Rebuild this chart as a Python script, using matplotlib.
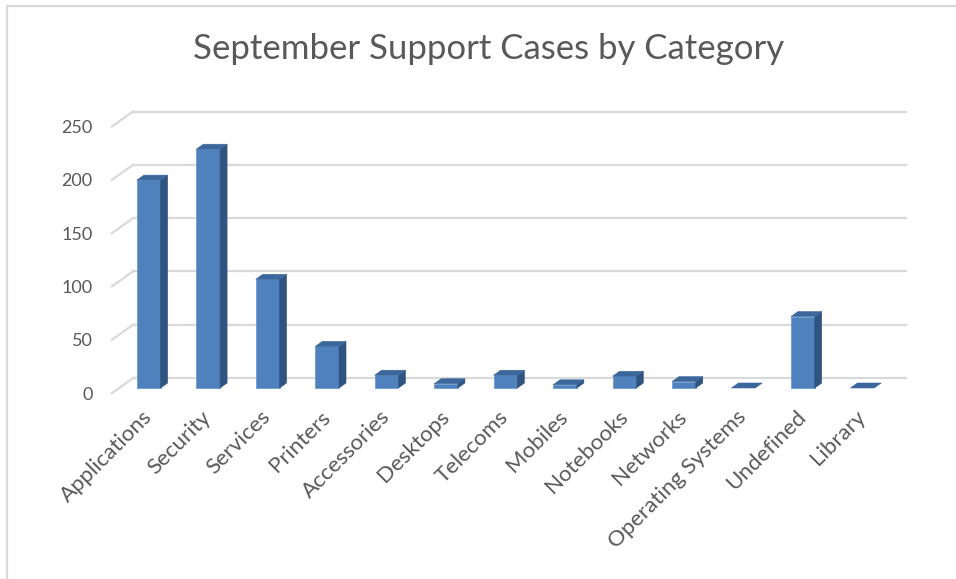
import matplotlib.pyplot as plt
from matplotlib.patches import Polygon, Rectangle

# Datos del grafico
categories = ['Applications', 'Security', 'Services', 'Printers', 'Accessories',
              'Desktops', 'Telecoms', 'Mobiles', 'Notebooks', 'Networks',
              'Operating Systems', 'Undefined', 'Library']
cases = [195, 224, 102, 39, 12, 4, 12, 3, 11, 6, 0, 67, 0]
y_ticks = [0, 50, 100, 150, 200, 250]

plt.rcParams['font.family'] = ['Lato', 'DejaVu Sans']
text_color = '#595959'
grid_color = '#d9d9d9'
front_col = '#4F81BD'
top_col = '#3C679C'
side_col = '#2F5480'

W, H = 956, 579
fig = plt.figure(figsize=(W / 100, H / 100), dpi=100)

# plano frontal del eje en pixeles
x0, x1 = 112, 885
y0, y1 = 393, 126.5
ax = fig.add_axes([x0 / W, 1 - y0 / H, (x1 - x0) / W, (y0 - y1) / H])
n = len(categories)
ax.set_xlim(-0.5, n - 0.5)
ax.set_ylim(0, 250)
for s in ax.spines.values():
    s.set_visible(False)

# conversion de pixeles a unidades de datos
px_x = (x1 - x0) / n
px_y = (y0 - y1) / 250.0
depth_dx, depth_dy = 21 / px_x, 15 / px_y  # profundidad total del suelo

# lineas de cuadricula: pared del fondo y pared lateral
for v in y_ticks:
    ax.plot([-0.5 + depth_dx, n - 0.5 + depth_dx], [v + depth_dy, v + depth_dy],
            color=grid_color, lw=1.6, clip_on=False, zorder=1)
    ax.plot([-0.5, -0.5 + depth_dx], [v, v + depth_dy],
            color=grid_color, lw=1.6, clip_on=False, zorder=1)

# barras 3D: cara frontal a 1/3 de la profundidad, fondo a 2/3
width = 0.4
fx, fy = depth_dx / 3, depth_dy / 3
bx, by = depth_dx / 3, depth_dy / 3
for i, v in enumerate(cases):
    left = i - width / 2 + fx
    right = i + width / 2 + fx
    bottom = fy
    top = v + fy
    if v > 0:
        ax.add_patch(Rectangle((left, bottom), width, v, facecolor=front_col,
                               edgecolor='#6f9bd1', lw=0.6, clip_on=False, zorder=3))
        ax.add_patch(Polygon([(right, bottom), (right + bx, bottom + by),
                              (right + bx, top + by), (right, top)],
                             facecolor=side_col, edgecolor=side_col, lw=0.4,
                             clip_on=False, zorder=3))
    ax.add_patch(Polygon([(left, top), (right, top), (right + bx, top + by),
                          (left + bx, top + by)],
                         facecolor=top_col, edgecolor=top_col, lw=0.4,
                         clip_on=False, zorder=4))

ax.set_yticks(y_ticks)
ax.set_yticklabels([str(t) for t in y_ticks], fontsize=13, color=text_color)
ax.tick_params(axis='y', length=0, pad=14)
ax.set_xticks(range(n))
ax.set_xticklabels(categories, rotation=45, ha='right', rotation_mode='anchor',
                   fontsize=16, color=text_color)
ax.tick_params(axis='x', length=0, pad=10)

fig.text(489 / W, 1 - 49 / H, 'September Support Cases by Category', ha='center',
         va='center', fontsize=25, color=text_color)

# marco del grafico
fig.add_artist(Rectangle((7 / W, -0.1), 1.2, 1.1 - 6 / H, transform=fig.transFigure,
                         fill=False, edgecolor=grid_color, lw=1.6))

fig.savefig('out.png', dpi=100)
